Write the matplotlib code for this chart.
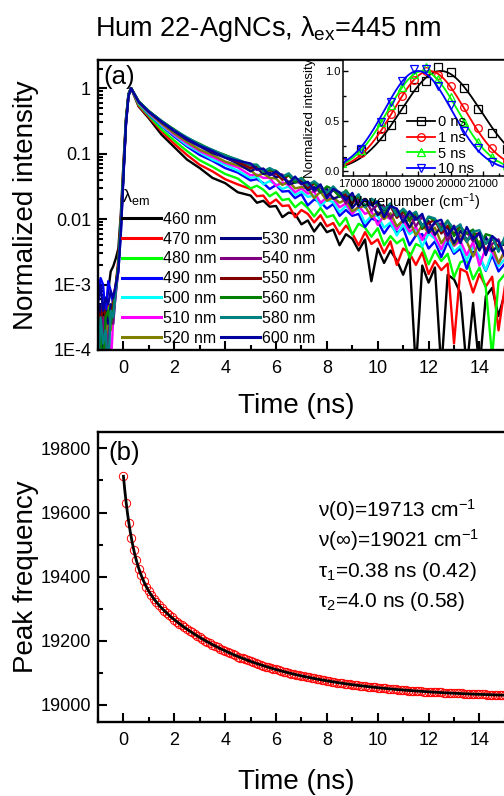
import numpy as np
import matplotlib
matplotlib.use("Agg")
import matplotlib.pyplot as plt
from matplotlib.lines import Line2D
from matplotlib.ticker import (MultipleLocator, LogLocator, NullFormatter, FixedLocator,
                               FixedFormatter, FormatStrFormatter)

plt.rcParams['font.family'] = ['Liberation Sans', 'DejaVu Sans']
plt.rcParams['mathtext.fontset'] = 'custom'
plt.rcParams['mathtext.rm'] = 'Liberation Sans'
plt.rcParams['mathtext.it'] = 'Liberation Sans:italic'
plt.rcParams['mathtext.bf'] = 'Liberation Sans:bold'
plt.rcParams['mathtext.sf'] = 'Liberation Sans'

# ---------------- (a) emission decays, log10 of normalized intensity ----------------
decay_time = ([-1.0, -0.9, -0.8, -0.7, -0.6, -0.5, -0.4, -0.3, -0.2, -0.1, 0.0, 0.1, 0.2, 0.3,
               0.6, 1.0, 1.5, 2.0, 2.5, 3.0, 3.5, 4.0, 4.5]
              + list(np.round(np.arange(5.0, 15.01, 0.25), 2)))

log_int_460 = [-3.6, -4.3, -3.5, -3.3, -3.1, -2.8, -2.72, -2.6, -2.45, -1.9, -1.15, -0.45, -0.08, 0.0,
               -0.28, -0.46, -0.71, -0.90, -1.09, -1.22, -1.37, -1.45, -1.59,
               -1.64, -1.75, -1.72, -1.81, -1.80, -1.97, -1.90, -1.92, -2.08, -2.02, -2.19, -2.06, -2.20, -2.16,
               -2.40, -2.23, -2.30, -2.48, -2.31, -2.95, -2.45, -2.67, -2.48, -2.63, -2.85, -2.58, -4.3, -2.71,
               -2.97, -2.74, -4.3, -2.85, -2.92, -3.13, -4.3, -3.28, -4.3, -3.18, -3.05, -3.48, -3.13]
log_int_470 = [-3.8, -3.4, -4.3, -3.6, -3.3, -3.5, -3.2, -3.0, -2.6, -2.0, -1.2, -0.48, -0.1, 0.0,
               -0.27, -0.44, -0.66, -0.85, -1.02, -1.17, -1.27, -1.39, -1.47,
               -1.54, -1.65, -1.64, -1.77, -1.70, -1.80, -1.79, -1.97, -1.86, -1.92, -2.05, -1.94, -2.11, -2.06,
               -2.23, -2.10, -2.22, -2.40, -2.20, -2.38, -2.31, -2.52, -2.34, -2.70, -2.45, -2.52, -2.70, -2.51,
               -2.84, -2.64, -2.78, -2.68, -3.9, -2.76, -2.81, -3.12, -2.84, -3.03, -2.88, -3.7, -3.03]
log_int_480 = [-4.3, -3.6, -3.5, -4.3, -3.4, -3.3, -3.4, -3.0, -2.7, -2.05, -1.25, -0.5, -0.1, 0.0,
               -0.25, -0.42, -0.63, -0.80, -0.96, -1.10, -1.20, -1.31, -1.38,
               -1.53, -1.49, -1.55, -1.65, -1.59, -1.71, -1.69, -1.82, -1.74, -1.83, -1.96, -1.83, -1.97, -1.94,
               -2.10, -1.98, -2.24, -2.07, -2.13, -2.27, -2.14, -2.40, -2.26, -2.37, -2.30, -2.59, -2.38, -2.43,
               -2.69, -2.48, -2.64, -2.53, -2.89, -2.66, -2.62, -2.92, -2.74, -3.05, -4.1, -2.96, -2.84]
log_int_490 = [-3.2, -2.9, -3.0, -3.5, -2.95, -3.1, -3.3, -3.1, -2.8, -2.2, -1.35, -0.55, -0.12, 0.0,
               -0.23, -0.40, -0.58, -0.74, -0.89, -1.02, -1.11, -1.22, -1.29,
               -1.41, -1.39, -1.45, -1.54, -1.48, -1.58, -1.57, -1.68, -1.62, -1.79, -1.70, -1.74, -1.84, -1.77,
               -1.95, -1.86, -1.95, -1.92, -2.12, -1.99, -2.03, -2.22, -2.08, -2.21, -2.14, -2.40, -2.25, -2.23,
               -2.45, -2.34, -2.58, -2.35, -2.53, -2.45, -2.76, -2.50, -2.58, -2.79, -2.55, -2.80, -2.68]
log_int_500 = [-3.9, -4.3, -3.6, -3.8, -4.3, -3.5, -3.6, -3.1, -2.75, -2.1, -1.3, -0.52, -0.11, 0.0,
               -0.23, -0.39, -0.57, -0.72, -0.87, -0.98, -1.09, -1.17, -1.26,
               -1.37, -1.35, -1.47, -1.42, -1.47, -1.54, -1.50, -1.63, -1.58, -1.66, -1.64, -1.80, -1.71, -1.74,
               -1.89, -1.80, -1.90, -1.85, -2.06, -1.95, -1.95, -2.13, -2.05, -2.25, -2.08, -2.23, -2.16, -2.42,
               -2.22, -2.30, -2.48, -2.28, -2.50, -2.41, -2.63, -2.42, -2.57, -2.78, -2.50, -2.72, -2.61]
log_int_510 = [-4.3, -3.9, -4.3, -3.7, -3.6, -4.3, -3.5, -3.15, -2.75, -2.1, -1.3, -0.52, -0.11, 0.0,
               -0.22, -0.38, -0.55, -0.71, -0.84, -0.96, -1.05, -1.14, -1.21,
               -1.33, -1.32, -1.37, -1.37, -1.49, -1.44, -1.48, -1.59, -1.53, -1.61, -1.58, -1.75, -1.67, -1.68,
               -1.82, -1.76, -1.92, -1.80, -1.92, -1.88, -2.09, -1.94, -2.00, -2.16, -2.01, -2.19, -2.12, -2.32,
               -2.15, -2.27, -2.46, -2.22, -2.41, -2.33, -2.55, -2.35, -2.71, -2.44, -2.50, -2.68, -2.48]
log_int_520 = [-3.7, -4.3, -3.8, -4.3, -3.5, -3.7, -3.3, -3.1, -2.7, -2.05, -1.28, -0.5, -0.1, 0.0,
               -0.22, -0.37, -0.54, -0.69, -0.82, -0.94, -1.02, -1.12, -1.18,
               -1.25, -1.34, -1.30, -1.37, -1.38, -1.48, -1.42, -1.53, -1.51, -1.53, -1.68, -1.58, -1.72, -1.67,
               -1.75, -1.70, -1.88, -1.82, -1.80, -1.97, -1.89, -2.00, -1.91, -2.11, -2.02, -2.02, -2.25, -2.09,
               -2.21, -2.13, -2.37, -2.22, -2.40, -2.25, -2.34, -2.57, -2.34, -2.49, -2.41, -2.67, -2.49]
log_int_530 = [-3.5, -3.3, -4.3, -3.4, -3.6, -3.3, -3.4, -3.05, -2.7, -2.1, -1.3, -0.52, -0.1, 0.0,
               -0.21, -0.36, -0.52, -0.66, -0.79, -0.89, -0.99, -1.06, -1.15,
               -1.27, -1.22, -1.31, -1.29, -1.36, -1.34, -1.47, -1.44, -1.43, -1.56, -1.51, -1.59, -1.54, -1.69,
               -1.65, -1.65, -1.83, -1.71, -1.81, -1.75, -1.94, -1.84, -1.98, -1.88, -1.95, -2.13, -1.96, -2.09,
               -2.03, -2.24, -2.11, -2.13, -2.37, -2.18, -2.31, -2.26, -2.48, -2.27, -2.49, -2.40, -2.39]
log_int_540 = [-4.3, -3.7, -3.5, -4.3, -3.8, -3.5, -3.6, -3.1, -2.72, -2.1, -1.3, -0.52, -0.1, 0.0,
               -0.20, -0.36, -0.51, -0.65, -0.77, -0.88, -0.96, -1.06, -1.12,
               -1.18, -1.25, -1.23, -1.32, -1.31, -1.32, -1.45, -1.39, -1.47, -1.44, -1.58, -1.52, -1.62, -1.56,
               -1.61, -1.76, -1.64, -1.74, -1.70, -1.87, -1.78, -1.80, -1.99, -1.85, -1.97, -1.93, -2.11, -1.96,
               -2.14, -2.07, -2.07, -2.34, -2.10, -2.33, -2.20, -2.34, -2.21, -2.51, -2.38, -2.31, -2.58]
log_int_550 = [-3.4, -3.6, -3.3, -3.5, -3.4, -3.5, -3.3, -3.0, -2.7, -2.05, -1.28, -0.5, -0.1, 0.0,
               -0.20, -0.35, -0.51, -0.64, -0.77, -0.86, -0.97, -1.03, -1.13,
               -1.22, -1.20, -1.28, -1.25, -1.30, -1.40, -1.33, -1.41, -1.40, -1.52, -1.46, -1.49, -1.64, -1.55,
               -1.64, -1.62, -1.76, -1.65, -1.80, -1.75, -1.76, -1.97, -1.80, -1.98, -1.89, -2.00, -1.91, -2.15,
               -2.06, -2.01, -2.22, -2.10, -2.23, -2.10, -2.34, -2.23, -2.22, -2.50, -2.29, -2.43, -2.31]
log_int_560 = [-3.6, -3.8, -4.3, -3.5, -3.4, -3.6, -3.4, -3.05, -2.7, -2.05, -1.28, -0.5, -0.1, 0.0,
               -0.20, -0.35, -0.50, -0.63, -0.76, -0.85, -0.95, -1.02, -1.10,
               -1.17, -1.17, -1.28, -1.25, -1.26, -1.35, -1.33, -1.44, -1.37, -1.46, -1.44, -1.59, -1.50, -1.55,
               -1.66, -1.56, -1.69, -1.66, -1.80, -1.69, -1.78, -1.92, -1.77, -1.91, -1.86, -2.02, -1.89, -2.14,
               -1.97, -2.02, -2.15, -2.02, -2.26, -2.12, -2.22, -2.16, -2.42, -2.23, -2.26, -2.49, -2.30]
log_int_580 = [-4.3, -3.5, -3.9, -3.7, -4.3, -3.4, -3.5, -3.1, -2.72, -2.08, -1.3, -0.5, -0.1, 0.0,
               -0.20, -0.35, -0.50, -0.64, -0.75, -0.86, -0.94, -1.03, -1.09,
               -1.17, -1.17, -1.27, -1.22, -1.27, -1.35, -1.30, -1.40, -1.38, -1.49, -1.42, -1.50, -1.60, -1.50,
               -1.61, -1.58, -1.71, -1.62, -1.82, -1.69, -1.74, -1.85, -1.76, -1.95, -1.84, -1.94, -1.89, -2.11,
               -1.96, -1.99, -2.18, -2.03, -2.15, -2.08, -2.35, -2.19, -2.17, -2.38, -2.26, -2.50, -2.27]
log_int_600 = [-3.3, -3.0, -3.4, -3.2, -3.3, -3.1, -3.2, -3.0, -2.8, -2.2, -1.35, -0.55, -0.12, 0.0,
               -0.21, -0.36, -0.51, -0.65, -0.77, -0.88, -0.96, -1.06, -1.11,
               -1.15, -1.24, -1.23, -1.33, -1.27, -1.34, -1.45, -1.35, -1.46, -1.43, -1.56, -1.47, -1.68, -1.54,
               -1.59, -1.71, -1.60, -1.81, -1.69, -1.79, -1.73, -1.97, -1.80, -1.84, -2.05, -1.88, -2.01, -1.92,
               -2.21, -2.04, -2.01, -2.25, -2.11, -2.37, -2.12, -2.31, -2.21, -2.55, -2.26, -2.34, -2.57]

emission_nm = [460, 470, 480, 490, 500, 510, 520, 530, 540, 550, 560, 580, 600]
decay_colors = ['#000000', '#FF0000', '#00FF00', '#0000FF', '#00FFFF', '#FF00FF', '#808000',
                '#000080', '#800080', '#800000', '#008000', '#008080', '#0000A0']
decay_series = [log_int_460, log_int_470, log_int_480, log_int_490, log_int_500, log_int_510, log_int_520,
                log_int_530, log_int_540, log_int_550, log_int_560, log_int_580, log_int_600]

intensity_ticks = [1e-4, 1e-3, 1e-2, 1e-1, 1]
intensity_tick_labels = ['1E-4', '1E-3', '0.01', '0.1', '1']
time_ticks = [0, 2, 4, 6, 8, 10, 12, 14]

# ---------------- (a) inset: time-resolved emission spectra ----------------
spectrum_wavenumber = [21739, 21277, 20833, 20408, 20000, 19608, 19231, 18868, 18519, 18182, 17857, 17241, 16667]
spectrum_0ns = [0.22, 0.38, 0.62, 0.83, 0.99, 1.04, 0.90, 0.84, 0.62, 0.46, 0.35, 0.21, 0.10]
spectrum_1ns = [0.10, 0.23, 0.43, 0.64, 0.85, 0.96, 1.00, 0.91, 0.75, 0.57, 0.42, 0.18, 0.09]
spectrum_5ns = [0.06, 0.14, 0.29, 0.49, 0.74, 0.92, 1.04, 0.97, 0.84, 0.66, 0.49, 0.21, 0.08]
spectrum_10ns = [0.03, 0.09, 0.23, 0.40, 0.66, 0.85, 1.02, 1.02, 0.90, 0.69, 0.49, 0.22, 0.09]
spectrum_labels = ['0 ns', '1 ns', '5 ns', '10 ns']
spectrum_colors = ['#000000', '#FF0000', '#00FF00', '#0000FF']
spectrum_markers = ['s', 'o', '^', 'v']
# Gaussian fit to each spectrum: peak position and half width at half maximum (cm^-1)
gauss_center = [19700, 19350, 19150, 19000]
gauss_hwhm = [1440, 1300, 1260, 1220]
wavenumber_ticks = [17000, 18000, 19000, 20000, 21000]

# ---------------- (b) peak frequency vs time ----------------
shift_time = np.round(np.arange(0, 15.05, 0.1), 2)
peak_frequency = [
    19713, 19630, 19568, 19521, 19484, 19452, 19425, 19404, 19385, 19369,
    19355, 19342, 19331, 19321, 19311, 19303, 19294, 19287, 19279, 19273,
    19266, 19260, 19254, 19248, 19242, 19236, 19231, 19226, 19221, 19216,
    19211, 19206, 19201, 19197, 19193, 19188, 19184, 19180, 19176, 19172,
    19169, 19165, 19162, 19158, 19155, 19151, 19148, 19145, 19142, 19139,
    19136, 19133, 19130, 19128, 19125, 19123, 19120, 19118, 19115, 19113,
    19111, 19108, 19106, 19104, 19102, 19100, 19098, 19096, 19094, 19093,
    19091, 19089, 19087, 19086, 19084, 19083, 19081, 19080, 19078, 19077,
    19075, 19074, 19073, 19071, 19070, 19069, 19068, 19067, 19066, 19064,
    19063, 19062, 19061, 19060, 19059, 19058, 19057, 19057, 19056, 19055,
    19054, 19053, 19052, 19052, 19051, 19050, 19049, 19049, 19048, 19047,
    19047, 19046, 19045, 19045, 19044, 19044, 19043, 19043, 19042, 19042,
    19041, 19041, 19040, 19040, 19039, 19039, 19038, 19038, 19037, 19037,
    19037, 19036, 19036, 19036, 19035, 19035, 19034, 19034, 19034, 19034,
    19033, 19033, 19033, 19032, 19032, 19032, 19031, 19031, 19031, 19031,
    19030]

# biexponential fit of the spectral shift
nu_0 = 19713
nu_inf = 19021
tau_1, amp_1 = 0.38, 0.42
tau_2, amp_2 = 4.0, 0.58

# ---------------- figure layout (pixel based) ----------------
W, H = 504, 796
fig = plt.figure(figsize=(W / 100, H / 100), dpi=100)


def rect(left, top, right, bottom):
    return [left / W, 1 - bottom / H, (right - left) / W, (bottom - top) / H]


PX_PER_NS = 25.43
AX_LEFT = 98
AX_RIGHT = AX_LEFT + 17 * PX_PER_NS
SPINE_W = 1.7


def style_main(ax):
    for side in ('left', 'bottom', 'top'):
        ax.spines[side].set_linewidth(SPINE_W)
    ax.spines['right'].set_visible(False)
    ax.tick_params(which='both', direction='in', top=False, right=False, width=1.5)
    ax.tick_params(which='major', length=6.5)
    ax.tick_params(which='minor', length=3.5)
    ax.tick_params(axis='x', labelsize=13, pad=7)
    ax.tick_params(axis='y', labelsize=13, pad=5)
    ax.set_xlim(-1, 16)
    ax.xaxis.set_major_locator(FixedLocator(time_ticks))
    ax.xaxis.set_minor_locator(FixedLocator([-1, 1, 3, 5, 7, 9, 11, 13, 15]))


# ---- panel (a)
ax_a = fig.add_axes(rect(AX_LEFT, 60, AX_RIGHT, 350))
for vals, col in zip(decay_series, decay_colors):
    ax_a.plot(decay_time, 10 ** np.asarray(vals), color=col, lw=1.7)
ax_a.set_yscale('log')
ax_a.set_ylim(1e-4, 2.7)
style_main(ax_a)
ax_a.yaxis.set_major_locator(FixedLocator(intensity_ticks))
ax_a.yaxis.set_major_formatter(FixedFormatter(intensity_tick_labels))
ax_a.yaxis.set_minor_locator(LogLocator(base=10, subs=np.arange(2, 10)))
ax_a.yaxis.set_minor_formatter(NullFormatter())
ax_a.set_xlabel('Time (ns)', fontsize=20)
ax_a.xaxis.label.set_verticalalignment('baseline')
ax_a.xaxis.set_label_coords((296 - AX_LEFT) / (AX_RIGHT - AX_LEFT), (350 - 413) / 290)
ax_a.set_ylabel('Normalized intensity', fontsize=20)
ax_a.yaxis.label.set_verticalalignment('baseline')
ax_a.yaxis.set_label_coords((33.5 - AX_LEFT) / (AX_RIGHT - AX_LEFT), 0.5)

handles, labels = [], []
for i, (lam, col) in enumerate(zip(emission_nm, decay_colors)):
    if i == 7:
        handles.append(Line2D([], [], color='none'))
        labels.append(' ')
    handles.append(Line2D([], [], color=col, lw=2.2))
    labels.append(f'{lam} nm')
ax_a.legend(handles, labels, ncol=2, loc='upper left',
            bbox_to_anchor=(122 / W, 1 - 187 / H), bbox_transform=fig.transFigure,
            frameon=False, fontsize=11.5, handlelength=2.45, handletextpad=0.1,
            columnspacing=0.3, labelspacing=0.3, borderpad=0, borderaxespad=0,
            title='λ$_{\\rm em}$', title_fontsize=13, alignment='left')

fig.text(103 / W, 1 - 84 / H, '(a)', fontsize=18.5, va='baseline')

# ---- inset
ax_in = fig.add_axes(rect(343, 60, 530, 176))
ax_in.set_facecolor('white')
wn_fine = np.linspace(16500, 22600, 400)
spectra = [spectrum_0ns, spectrum_1ns, spectrum_5ns, spectrum_10ns]
in_handles = []
for vals, col, mk, c0, hw in zip(spectra, spectrum_colors, spectrum_markers, gauss_center, gauss_hwhm):
    ax_in.plot(wn_fine, np.exp(-np.log(2) * ((wn_fine - c0) / hw) ** 2), color=col, lw=1.3)
    ax_in.plot(spectrum_wavenumber, vals, ls='none', marker=mk, mfc='none', mec=col, ms=5.5, mew=0.9)
    in_handles.append(Line2D([], [], color=col, lw=1.3, marker=mk, mfc='none', mec=col, ms=5.5, mew=0.9))
x_in_left = 16692
ax_in.set_xlim(x_in_left, x_in_left + (530 - 343) / 0.0325)
ax_in.set_ylim(-0.05, 1.11)
for side in ('left', 'bottom', 'top'):
    ax_in.spines[side].set_linewidth(1.1)
ax_in.spines['right'].set_visible(False)
ax_in.xaxis.set_major_locator(FixedLocator(wavenumber_ticks))
ax_in.xaxis.set_minor_locator(FixedLocator([16500, 17500, 18500, 19500, 20500, 21500]))
ax_in.yaxis.set_major_locator(MultipleLocator(0.5))
ax_in.yaxis.set_minor_locator(MultipleLocator(0.25))
ax_in.yaxis.set_major_formatter(FormatStrFormatter('%.1f'))
ax_in.tick_params(which='both', direction='in', top=False, right=False, width=1.0, labelsize=8)
ax_in.tick_params(which='major', length=3.5)
ax_in.tick_params(which='minor', length=2)
ax_in.tick_params(axis='x', pad=2)
ax_in.tick_params(axis='y', pad=2)
ax_in.legend(in_handles, spectrum_labels, loc='upper left',
             bbox_to_anchor=(407 / W, 1 - 115 / H), bbox_transform=fig.transFigure,
             frameon=False, fontsize=10.5, handlelength=1.9, handletextpad=0.25,
             labelspacing=0.12, borderpad=0, borderaxespad=0)
ax_in.set_ylabel('Normalized intensity', fontsize=9.5)
ax_in.yaxis.label.set_verticalalignment('baseline')
ax_in.yaxis.set_label_coords((313 - 343) / (530 - 343), 0.5)
fig.text(414 / W, 1 - 207 / H, 'Wavenumber (cm$^{-1}$)', fontsize=10.5, ha='center', va='baseline')

# ---- panel (b)
ax_b = fig.add_axes(rect(AX_LEFT, 432, AX_RIGHT, 722))
t_fit = np.linspace(0, 16, 600)
nu_fit = nu_inf + (nu_0 - nu_inf) * (amp_1 * np.exp(-t_fit / tau_1) + amp_2 * np.exp(-t_fit / tau_2))
ax_b.plot(shift_time, peak_frequency, ls='none', marker='o', mfc='none', mec='#FF0000', ms=6, mew=0.7)
ax_b.plot(t_fit, nu_fit, color='black', lw=2.0)
ax_b.set_ylim(18947, 19851)
style_main(ax_b)
ax_b.yaxis.set_major_locator(MultipleLocator(200))
ax_b.yaxis.set_minor_locator(MultipleLocator(100))
ax_b.set_xlabel('Time (ns)', fontsize=20)
ax_b.xaxis.label.set_verticalalignment('baseline')
ax_b.xaxis.set_label_coords((296 - AX_LEFT) / (AX_RIGHT - AX_LEFT), (722 - 789) / 290)
ax_b.set_ylabel('Peak frequency', fontsize=20)
ax_b.yaxis.label.set_verticalalignment('baseline')
ax_b.yaxis.set_label_coords((33.5 - AX_LEFT) / (AX_RIGHT - AX_LEFT), 0.5)

fig.text(108 / W, 1 - 460 / H, '(b)', fontsize=18.5, va='baseline')
fit_lines = [f'ν(0)={nu_0} cm$^{{-1}}$',
             f'ν(∞)={nu_inf} cm$^{{-1}}$',
             f'τ$_1$={tau_1:.2f} ns ({amp_1:.2f})',
             f'τ$_2$={tau_2:.1f} ns ({amp_2:.2f})']
for txt, base in zip(fit_lines, [516.5, 546.5, 577, 607]):
    fig.text(318 / W, 1 - base / H, txt, fontsize=15, va='baseline')

# ---- title
fig.text(268 / W, 1 - 36.5 / H, 'Hum 22-AgNCs, λ$_{\\rm ex}$=445 nm', fontsize=19.5, ha='center', va='baseline')

fig.savefig('out.png', dpi=100)
